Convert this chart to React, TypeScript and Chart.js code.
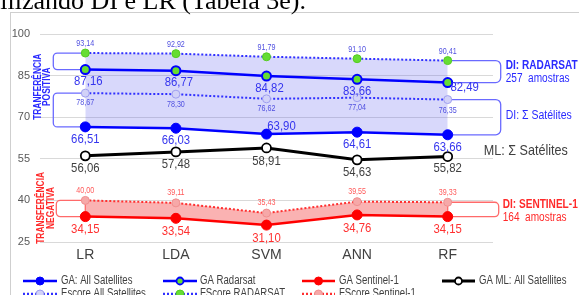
import React, { useEffect, useRef } from "react";
import { Chart, registerables } from "chart.js";
Chart.register(...registerables);

// ---- data ----
const categories = ["LR", "LDA", "SVM", "ANN", "RF"];
const gaAllSatellites = [66.51, 66.03, 63.9, 64.61, 63.66];
const gaRadarsat = [87.16, 86.77, 84.82, 83.66, 82.49];
const gaSentinel1 = [34.15, 33.54, 31.1, 34.76, 34.15];
const gaMlAllSatellites = [56.06, 57.48, 58.91, 54.63, 55.82];
const escoreAllSatellites = [78.67, 78.3, 76.62, 77.04, 76.35];
const fscoreRadarsat = [93.14, 92.92, 91.79, 91.1, 90.41];
const fscoreSentinel1 = [40.0, 39.11, 35.43, 39.55, 39.33];
const yTicks = [25, 40, 55, 70, 85, 100];

const seriesNames = [
  "GA: All Satellites",
  "GA Radarsat",
  "GA Sentinel-1",
  "GA ML: All Satellites",
  "Escore All Satellites",
  "FScore RADARSAT",
  "FScore Sentinel-1",
];

const FONT = "'Liberation Sans', Arial, sans-serif";
const BLUE = "#0000ff";
const RED = "#ff0000";
const GREEN = "#66dd33";
const LAV = "#d2d2f8";
const PINK = "#f6a8a8";
const BLUE_SHADE = "rgba(100,100,240,0.25)";
const RED_SHADE = "rgba(240,0,0,0.3)";
const BRACKET_BLUE = "#6a6aff";
const BRACKET_RED = "#ff6a6a";

type TxtOpts = { bold?: boolean; align?: "left" | "center" | "right"; sx?: number };

function txt(
  ctx: CanvasRenderingContext2D,
  s: string,
  x: number,
  y: number,
  size: number,
  color: string,
  o: TxtOpts = {}
) {
  const sx = o.sx ?? 0.84;
  ctx.save();
  ctx.font = `${o.bold ? "bold " : ""}${size}px ${FONT}`;
  ctx.fillStyle = color;
  ctx.textBaseline = "middle";
  ctx.textAlign = "left";
  const w = ctx.measureText(s).width * sx;
  const x0 = o.align === "center" ? x - w / 2 : o.align === "right" ? x - w : x;
  ctx.translate(x0, y);
  ctx.scale(sx, 1);
  ctx.fillText(s, 0, 0);
  ctx.restore();
}

export default function App() {
  const ref = useRef<HTMLCanvasElement>(null);

  useEffect(() => {
    const canvas = ref.current!;
    const fmt = (v: number) => v.toFixed(2).replace(".", ",");

    const labelCfg = [
      { size: 13.5, color: "#3535ee", dx: [0, 0, 15, 0, 0], dy: [12, 12, -8, 12, 12] },
      { size: 13.5, color: "#3535ee", dx: [3, 3, 3, 0, 17], dy: [12, 12, 12, 12, 5] },
      { size: 13.5, color: "#ff3030", dx: [0, 0, 0, 0, 0], dy: [13, 13, 13, 13, 13] },
      { size: 13.5, color: "#404040", dx: [0, 0, 0, 0, 0], dy: [12, 12, 13, 12, 12] },
      { size: 8.5, color: "#5050e0", dx: [0, 0, 0, 0, 0], dy: [10, 10, 10, 10, 11] },
      { size: 8.5, color: "#5050e0", dx: [0, 0, 0, 0, 0], dy: [-9, -9, -9, -9, -9] },
      { size: 8.5, color: "#ff5a5a", dx: [0, 0, 0, 0, 0], dy: [-10, -10, -10, -10, -10] },
    ];

    const bracket = (
      ctx: CanvasRenderingContext2D,
      xPoint: number,
      xEdge: number,
      yTop: number,
      yBot: number,
      r: number
    ) => {
      const s = xEdge < xPoint ? 1 : -1;
      ctx.beginPath();
      ctx.moveTo(xPoint, yTop);
      ctx.lineTo(xEdge + s * r, yTop);
      ctx.arcTo(xEdge, yTop, xEdge, yTop + r, r);
      ctx.lineTo(xEdge, yBot - r);
      ctx.arcTo(xEdge, yBot, xEdge + s * r, yBot, r);
      ctx.lineTo(xPoint, yBot);
    };

    const decor = {
      id: "decor",
      beforeDraw(chart: any) {
        const ctx = chart.ctx as CanvasRenderingContext2D;
        ctx.save();
        ctx.fillStyle = "#ffffff";
        ctx.fillRect(0, 0, chart.width, chart.height);
        ctx.strokeStyle = "#cfcfcf";
        ctx.lineWidth = 1;
        ctx.strokeRect(10.5, 12.5, chart.width + 40, chart.height + 40);
        ctx.fillStyle = "#000000";
        ctx.font = "26px 'Liberation Serif', serif";
        ctx.textAlign = "right";
        ctx.textBaseline = "alphabetic";
        ctx.fillText("utilizando DI e LR (Tabela 3e).", 306, 9);
        ctx.restore();
      },
      beforeDatasetsDraw(chart: any) {
        const ctx = chart.ctx as CanvasRenderingContext2D;
        const xs = chart.scales.x;
        const ys = chart.scales.y;
        const px = (i: number) => xs.getPixelForValue(i);
        const py = (v: number) => ys.getPixelForValue(v);
        const x0 = px(0);
        const x4 = px(4);
        ctx.save();
        ctx.lineWidth = 1.3;
        ctx.strokeStyle = BRACKET_BLUE;
        bracket(ctx, x0, x0 - 32, py(fscoreRadarsat[0]), py(gaRadarsat[0]), 4);
        ctx.stroke();
        bracket(ctx, x0, x0 - 32, py(escoreAllSatellites[0]), py(gaAllSatellites[0]), 4);
        ctx.stroke();
        bracket(ctx, x4, x4 + 53, py(fscoreRadarsat[4]), py(gaRadarsat[4]), 5);
        ctx.stroke();
        bracket(ctx, x4, x4 + 53, py(escoreAllSatellites[4]), py(gaAllSatellites[4]), 5);
        ctx.stroke();
        ctx.strokeStyle = BRACKET_RED;
        ctx.fillStyle = "#ffffff";
        bracket(ctx, x0, x0 - 29, py(fscoreSentinel1[0]), py(gaSentinel1[0]), 4);
        ctx.closePath();
        ctx.fill();
        ctx.stroke();
        bracket(ctx, x4, x4 + 51, py(fscoreSentinel1[4]), py(gaSentinel1[4]), 4);
        ctx.closePath();
        ctx.fill();
        ctx.stroke();
        ctx.restore();
      },
      afterDatasetsDraw(chart: any) {
        const ctx = chart.ctx as CanvasRenderingContext2D;
        const xs = chart.scales.x;
        const ys = chart.scales.y;
        const px = (i: number) => xs.getPixelForValue(i);
        const py = (v: number) => ys.getPixelForValue(v);
        chart.data.datasets.forEach((ds: any, i: number) => {
          const meta = chart.getDatasetMeta(i);
          const cfg = labelCfg[i];
          meta.data.forEach((pt: any, j: number) => {
            txt(ctx, fmt(ds.data[j]), pt.x + cfg.dx[j], pt.y + cfg.dy[j], cfg.size, cfg.color, {
              align: "center",
            });
          });
        });

        const vert = (lines: string[], xsPos: number[], yc: number, color: string) => {
          lines.forEach((t, k) => {
            ctx.save();
            ctx.translate(xsPos[k], yc);
            ctx.rotate(-Math.PI / 2);
            txt(ctx, t, 0, 0, 10, color, { bold: true, align: "center" });
            ctx.restore();
          });
        };
        vert(["TRANFERÊNCIA", "POSITIVA"], [38, 47.5], py(81), "#2a2aff");
        vert(["TRANSFERÊNCIA", "NEGATIVA"], [41, 51], py(37.3), "#ff2a2a");

        const x4 = px(4);
        txt(ctx, "DI: RADARSAT", x4 + 58, py(88.7), 12, "#2a2aff", { bold: true });
        txt(ctx, "257  amostras", x4 + 58, py(84), 12, "#2a2aff");
        txt(ctx, "DI: Σ Satélites", x4 + 58, py(70.5), 12.5, "#2a2aff");
        txt(ctx, "ML: Σ Satélites", x4 + 36, py(57.8), 15, "#404040");
        txt(ctx, "DI: SENTINEL-1", x4 + 55, py(38.5), 12, "#ff2a2a", { bold: true });
        txt(ctx, "164  amostras", x4 + 55, py(33.9), 12, "#ff2a2a");
      },
      afterDraw(chart: any) {
        const ctx = chart.ctx as CanvasRenderingContext2D;
        const cols = [
          { a: 23, b: 57, t: 61 },
          { a: 163, b: 197, t: 200 },
          { a: 302, b: 335, t: 339 },
          { a: 442, b: 475, t: 479 },
        ];
        const rows = [281, 294];
        const items = [
          { s: 0, r: 0, c: 0, line: BLUE, dash: false, w: 2.5, bg: BLUE, bd: BLUE, rad: 4, bw: 1 },
          { s: 1, r: 0, c: 1, line: BLUE, dash: false, w: 2.5, bg: GREEN, bd: BLUE, rad: 3.5, bw: 1.8 },
          { s: 2, r: 0, c: 2, line: RED, dash: false, w: 2.5, bg: RED, bd: RED, rad: 4, bw: 1 },
          { s: 3, r: 0, c: 3, line: "#000000", dash: false, w: 3, bg: "#ffffff", bd: "#000000", rad: 3.5, bw: 1.8 },
          { s: 4, r: 1, c: 0, line: "#3030ff", dash: true, w: 2.5, bg: LAV, bd: "#a0a0f0", rad: 4, bw: 1 },
          { s: 5, r: 1, c: 1, line: "#3030ff", dash: true, w: 2.5, bg: GREEN, bd: "#55cc22", rad: 4, bw: 1 },
          { s: 6, r: 1, c: 2, line: "#ff3030", dash: true, w: 2.5, bg: PINK, bd: "#f09090", rad: 4, bw: 1 },
        ];
        ctx.save();
        items.forEach((it) => {
          const c = cols[it.c];
          const y = rows[it.r];
          ctx.beginPath();
          ctx.setLineDash(it.dash ? [2, 2] : []);
          ctx.strokeStyle = it.line;
          ctx.lineWidth = it.w;
          ctx.moveTo(c.a, y);
          ctx.lineTo(c.b, y);
          ctx.stroke();
          ctx.setLineDash([]);
          ctx.beginPath();
          ctx.arc((c.a + c.b) / 2, y, it.rad, 0, Math.PI * 2);
          ctx.fillStyle = it.bg;
          ctx.fill();
          ctx.lineWidth = it.bw;
          ctx.strokeStyle = it.bd;
          ctx.stroke();
          txt(ctx, seriesNames[it.s], c.t, y, 12, "#404040", { sx: 0.8 });
        });
        ctx.restore();
      },
    };

    const chart = new Chart(canvas, {
      type: "line",
      data: {
        labels: categories,
        datasets: [
          {
            label: seriesNames[0],
            data: gaAllSatellites,
            borderColor: BLUE,
            borderWidth: 2.5,
            pointBackgroundColor: BLUE,
            pointBorderColor: BLUE,
            pointRadius: 5,
            pointBorderWidth: 1,
            fill: false,
          },
          {
            label: seriesNames[1],
            data: gaRadarsat,
            borderColor: BLUE,
            borderWidth: 2.5,
            pointBackgroundColor: GREEN,
            pointBorderColor: BLUE,
            pointRadius: 4.5,
            pointBorderWidth: 2,
            fill: false,
          },
          {
            label: seriesNames[2],
            data: gaSentinel1,
            borderColor: RED,
            borderWidth: 2.5,
            pointBackgroundColor: RED,
            pointBorderColor: RED,
            pointRadius: 5,
            pointBorderWidth: 1,
            fill: false,
          },
          {
            label: seriesNames[3],
            data: gaMlAllSatellites,
            borderColor: "#000000",
            borderWidth: 3,
            pointBackgroundColor: "#ffffff",
            pointBorderColor: "#000000",
            pointRadius: 4.5,
            pointBorderWidth: 1.8,
            fill: false,
          },
          {
            label: seriesNames[4],
            data: escoreAllSatellites,
            borderColor: "#3030ff",
            borderWidth: 2,
            borderDash: [2, 2],
            pointBackgroundColor: LAV,
            pointBorderColor: "#a0a0f0",
            pointRadius: 4,
            pointBorderWidth: 1,
            fill: false,
          },
          {
            label: seriesNames[5],
            data: fscoreRadarsat,
            borderColor: "#3030ff",
            borderWidth: 2,
            borderDash: [2, 2],
            pointBackgroundColor: GREEN,
            pointBorderColor: "#55cc22",
            pointRadius: 4,
            pointBorderWidth: 1,
            fill: { target: 0, above: BLUE_SHADE, below: BLUE_SHADE },
          },
          {
            label: seriesNames[6],
            data: fscoreSentinel1,
            borderColor: "#ff3030",
            borderWidth: 2,
            borderDash: [2, 2],
            pointBackgroundColor: PINK,
            pointBorderColor: "#f09090",
            pointRadius: 4,
            pointBorderWidth: 1,
            fill: { target: 2, above: RED_SHADE, below: RED_SHADE },
          },
        ],
      },
      options: {
        responsive: false,
        animation: false,
        devicePixelRatio: 1,
        layout: { padding: { left: 10, right: 86, top: 34, bottom: 33 } },
        plugins: {
          legend: { display: false },
          tooltip: { enabled: false },
          filler: { drawTime: "beforeDatasetsDraw" },
        } as any,
        scales: {
          x: {
            offset: true,
            grid: { display: false, drawTicks: false },
            border: { display: false },
            ticks: { font: { family: FONT, size: 14 }, color: "#404040", padding: 5 },
            afterFit: (s: any) => {
              s.height = 20;
            },
          },
          y: {
            min: 25,
            max: 100,
            afterBuildTicks: (s: any) => {
              s.ticks = yTicks.map((v) => ({ value: v }));
            },
            ticks: { font: { family: FONT, size: 11 }, color: "#595959", padding: 10 },
            grid: { color: "#d9d9d9", drawTicks: false },
            border: { display: false },
            afterFit: (s: any) => {
              s.width = 30;
            },
          },
        },
      },
      plugins: [decor as any],
    });

    return () => chart.destroy();
  }, []);

  return (
    <div style={{ position: "fixed", left: 0, top: 0, width: 579, height: 295, overflow: "hidden" }}>
      <canvas ref={ref} width={579} height={295} style={{ display: "block" }} />
    </div>
  );
}
